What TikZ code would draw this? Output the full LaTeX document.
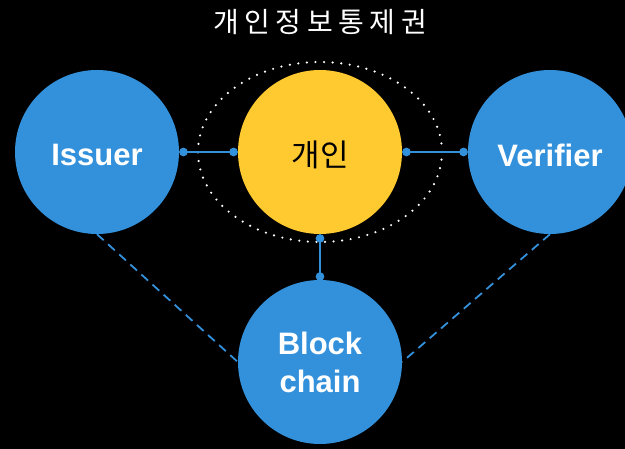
\documentclass[tikz,border=0pt]{standalone}
\usepackage{fontspec}
\setmainfont{Liberation Sans}
\newfontfamily\kr{Noto Sans CJK KR}
\newfontfamily\krtitle[LetterSpace=20]{Noto Sans CJK KR}
\usetikzlibrary{arrows.meta,shapes.geometric}
\definecolor{cblue}{HTML}{3391DC}
\definecolor{cyellow}{HTML}{FFCA2F}
\tikzset{
  bigcirc/.style={circle, minimum size=164pt, inner sep=0pt, fill=cblue},
  lbl/.style={text=white, font=\bfseries\fontsize{31}{38}\selectfont, align=center, inner sep=0pt},
  conn/.style={draw=cblue, line width=2.4pt, {Circle[length=8.5pt]}-{Circle[length=8.5pt]}},
  dashconn/.style={draw=cblue, line width=1.8pt, dash pattern=on 9pt off 6pt},
  dotring/.style={draw=white, line width=2.4pt, line cap=round, dash pattern=on 0pt off 8.6pt}
}
\begin{document}
\begin{tikzpicture}[x=1pt,y=-1pt]
\fill[black] (0,0) rectangle (625,449);
\useasboundingbox (0,0) rectangle (625,449);
\node[text=white, font=\krtitle\fontsize{28}{32}\selectfont] (title) at (320,22) {개인정보통제권};
\node[dotring, ellipse, minimum width=244pt, minimum height=180pt, inner sep=0pt] (ring) at (320,152) {};
\node[bigcirc, label={[lbl, yshift=-3pt]center:Issuer}] (iss) at (97,152) {};
\node[bigcirc, fill=cyellow, label={[lbl, text=black, font=\kr\fontsize{31}{36}\selectfont, yshift=-3pt]center:개인}] (me) at (320,152) {};
\node[bigcirc, label={[lbl, yshift=-3pt]center:Verifier}] (ver) at (550,152) {};
\node[bigcirc, label={[lbl]center:{Block\\chain}}] (bc) at (320,362) {};
\draw[conn] (iss.east) -- (me.west);
\draw[conn] (me.east) -- (ver.west);
\draw[conn] (me.south) -- ([yshift=-1pt]bc.north);
\draw[dashconn] (iss.south) -- (bc.west);
\draw[dashconn] (ver.south) -- (bc.east);
\end{tikzpicture}
\end{document}
